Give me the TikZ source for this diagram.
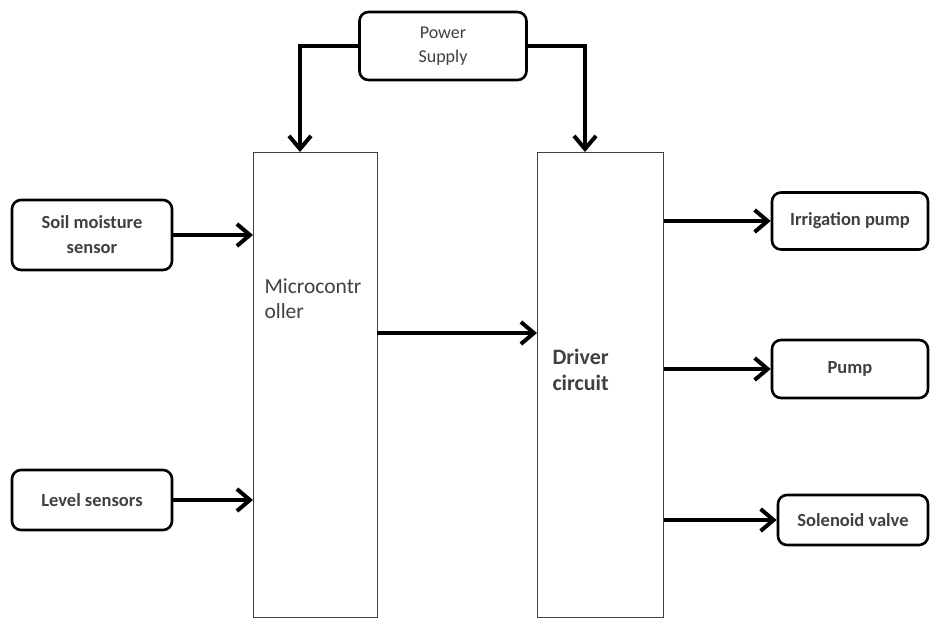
\documentclass[tikz,border=0pt]{standalone}
\usepackage{fontspec}
\setmainfont{Carlito}
\usetikzlibrary{arrows.meta}

\begin{document}
\begin{tikzpicture}[x=1pt,y=-1pt,
  block/.style={draw=black!75,line width=1.3pt,fill=white},
  unit/.style={draw=black,line width=2.6pt,rounded corners=9pt,fill=white,
    align=center,text=black!75,font=\fontsize{18.5}{25}\selectfont\bfseries},
  label/.style={text=black!75,align=left,anchor=west},
  flow/.style={line width=4.5pt,-{Straight Barb[length=13pt,width=22pt,line width=4pt]}}]
\useasboundingbox[fill=white] (0,0) rectangle (931,619);

% big blocks
\node[block,minimum width=124pt,minimum height=465pt,anchor=north west] (mcu) at (253,152) {};
\node[block,minimum width=126pt,minimum height=465pt,anchor=north west] (drv) at (537,152) {};
\node[label,font=\fontsize{21.5}{25}\selectfont] (mcutext) at (261,299) {Microcontr\\oller};
\node[label,font=\fontsize{22}{26}\selectfont\bfseries] (drvtext) at (549,370) {Driver\\circuit};

% small boxes
\node[unit,minimum width=167pt,minimum height=68pt,font=\fontsize{18}{24}\selectfont] (psu) at (443,46) {Power\\Supply};
\node[unit,minimum width=160pt,minimum height=70pt] (soil) at (92,235) {Soil moisture\\sensor};
\node[unit,minimum width=160pt,minimum height=60pt] (level) at (92,500) {Level sensors};
\node[unit,minimum width=156pt,minimum height=57pt] (irr) at (850,221) {Irrigation pump};
\node[unit,minimum width=156pt,minimum height=58pt] (pump) at (850,369) {Pump};
\node[unit,minimum width=150pt,minimum height=50pt] (valve) at (853,520) {Solenoid valve};

% connectors
\coordinate (mcuin) at (300,152);
\coordinate (drvin) at (585,152);
\coordinate (link) at (377,333);
\draw[flow] (psu.west) -| (mcuin);
\draw[flow] (psu.east) -| (drvin);
\draw[flow] (soil.east) -- (soil.east -| mcu.west);
\draw[flow] (level.east) -- (level.east -| mcu.west);
\draw[flow] (link) -- (link -| drv.west);
\draw[flow] (irr.west -| drv.east) -- (irr.west);
\draw[flow] (pump.west -| drv.east) -- (pump.west);
\draw[flow] (valve.west -| drv.east) -- (valve.west);
\end{tikzpicture}
\end{document}
